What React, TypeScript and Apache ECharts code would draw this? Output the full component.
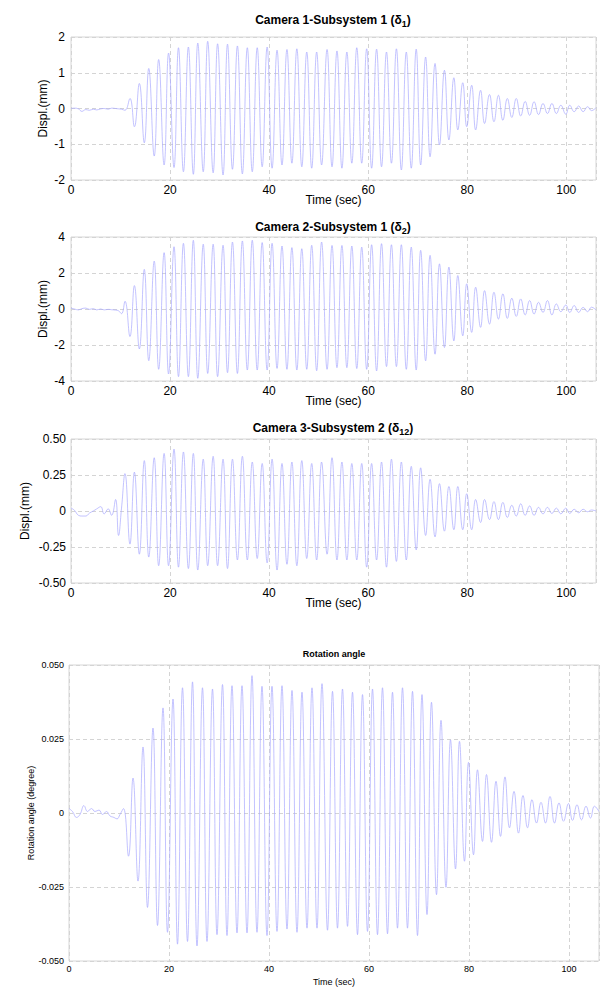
import React, { useEffect, useRef } from "react";
import * as echarts from "echarts";

const X_MAX = 106;
const xTicks = [0, 20, 40, 60, 80, 100];

// times (s) of the quiet part before the shaking starts
const preTimes = [0, 0.7, 1.5, 2.2, 3, 3.7, 4.5, 5.2, 6, 6.7, 7.5, 8.2, 9, 9.6, 10.2, 10.9];
// times (s) of the alternating extrema
const timesA = [11.9, 13.8, 15.7, 17.7, 19.7, 21.7, 23.7, 25.6, 27.6, 29.6, 31.6, 33.6, 35.6, 37.6, 39.6, 41.6, 43.6, 45.6, 47.6, 49.6, 51.7, 53.7, 55.7, 57.7, 59.7, 61.7, 63.7, 65.7, 67.7, 69.7, 71.6, 73.5, 75.4, 77.3, 79.1, 80.9, 82.7, 84.5, 86.3, 88.1, 89.9, 91.7, 93.5, 95.3, 97.1, 98.9, 100.7, 102.5, 104.3];
const timesB = [12.8, 14.8, 16.8, 18.8, 20.8, 22.7, 24.7, 26.7, 28.7, 30.7, 32.6, 34.6, 36.6, 38.6, 40.6, 42.6, 44.6, 46.6, 48.6, 50.6, 52.7, 54.7, 56.7, 58.7, 60.7, 62.7, 64.7, 66.7, 68.7, 70.6, 72.5, 74.4, 76.3, 78.1, 79.9, 81.7, 83.5, 85.4, 87.2, 89.0, 90.8, 92.6, 94.4, 96.2, 98.0, 99.9, 101.6, 103.4, 105.1];

// Camera 1 - Subsystem 1 (mm): maxima at timesA, minima at timesB
const pre1 = [0, 0.01, -0.01, -0.08, -0.03, -0.05, -0.02, -0.04, -0.01, 0.0, -0.02, 0.01, 0.0, -0.01, -0.02, -0.05];
const highs1 = [0.28, 0.7, 1.12, 1.37, 1.55, 1.7, 1.72, 1.83, 1.88, 1.81, 1.8, 1.75, 1.7, 1.7, 1.72, 1.63, 1.65, 1.67, 1.58, 1.58, 1.65, 1.61, 1.58, 1.7, 1.67, 1.66, 1.58, 1.67, 1.58, 1.66, 1.44, 1.26, 1.07, 0.86, 0.72, 0.65, 0.51, 0.39, 0.37, 0.28, 0.28, 0.2, 0.19, 0.14, 0.14, 0.09, 0.09, 0.07, 0.05];
const lows1 = [-0.51, -0.96, -1.33, -1.58, -1.65, -1.77, -1.84, -1.77, -1.8, -1.86, -1.7, -1.83, -1.77, -1.63, -1.67, -1.58, -1.53, -1.63, -1.67, -1.58, -1.63, -1.67, -1.53, -1.53, -1.67, -1.63, -1.53, -1.72, -1.67, -1.58, -1.35, -1.02, -0.88, -0.6, -0.51, -0.6, -0.42, -0.37, -0.33, -0.25, -0.21, -0.19, -0.17, -0.14, -0.14, -0.16, -0.09, -0.09, -0.06];
const end1 = 0.02;

// Camera 2 - Subsystem 1 (mm): maxima at timesB, minima at timesA
const pre2 = [0.05, 0.0, -0.05, 0.02, 0.05, -0.02, 0.02, -0.05, 0.0, -0.05, -0.02, -0.04, -0.06, -0.1, -0.26, 0.43];
const highs2 = [1.3, 2.2, 2.66, 3.13, 3.46, 3.65, 3.82, 3.6, 3.6, 3.54, 3.72, 3.78, 3.82, 3.69, 3.65, 3.5, 3.41, 3.35, 3.54, 3.72, 3.53, 3.53, 3.5, 3.44, 3.57, 3.63, 3.57, 3.57, 3.44, 3.26, 2.98, 2.51, 2.33, 1.86, 1.4, 1.21, 1.02, 0.93, 0.84, 0.6, 0.56, 0.47, 0.37, 0.47, 0.28, 0.22, 0.19, 0.09, 0.1];
const lows2 = [-1.53, -2.22, -2.87, -3.35, -3.61, -3.76, -3.76, -3.85, -3.58, -3.76, -3.54, -3.58, -3.39, -3.39, -3.39, -3.3, -3.35, -3.39, -3.35, -3.43, -3.35, -3.26, -3.26, -3.31, -3.35, -3.44, -3.2, -3.2, -3.35, -3.39, -2.88, -2.51, -2.14, -1.77, -1.49, -1.3, -1.02, -0.84, -0.56, -0.52, -0.41, -0.33, -0.28, -0.19, -0.33, -0.15, -0.19, -0.19, -0.15];
const end2 = -0.05;

// Camera 3 - Subsystem 2 (mm)
const pre3 = [0.02, 0.005, -0.03, -0.035, -0.035, -0.015, 0.0, 0.015, 0.03, -0.02, 0.015, -0.03, 0.08, -0.17, 0.02, 0.26];
const highs3 = [0.27, 0.35, 0.37, 0.4, 0.43, 0.41, 0.4, 0.36, 0.38, 0.36, 0.36, 0.38, 0.34, 0.33, 0.36, 0.33, 0.34, 0.35, 0.33, 0.34, 0.37, 0.34, 0.33, 0.33, 0.33, 0.34, 0.36, 0.34, 0.31, 0.3, 0.22, 0.19, 0.17, 0.17, 0.12, 0.08, 0.08, 0.065, 0.06, 0.04, 0.05, 0.035, 0.025, 0.025, 0.02, 0.02, 0.012, 0.012, 0.007];
const lows3 = [-0.23, -0.3, -0.32, -0.38, -0.38, -0.39, -0.4, -0.41, -0.38, -0.38, -0.4, -0.34, -0.34, -0.33, -0.36, -0.41, -0.37, -0.38, -0.33, -0.34, -0.3, -0.34, -0.34, -0.34, -0.39, -0.34, -0.39, -0.35, -0.34, -0.27, -0.17, -0.18, -0.14, -0.13, -0.13, -0.13, -0.08, -0.06, -0.06, -0.045, -0.035, -0.03, -0.03, -0.02, -0.017, -0.02, -0.017, -0.012, -0.005];
const end3 = 0.0;

// Rotation angle (degree)
const pre4 = [0.0015, 0.0005, -0.0015, -0.0005, 0.0025, 0.0005, 0.0015, 0.0005, 0.001, -0.0005, 0.0005, -0.001, -0.0015, -0.002, -0.0005, 0.0015];
const highs4 = [0.0118, 0.0223, 0.0287, 0.0355, 0.0385, 0.0423, 0.0443, 0.0423, 0.0419, 0.0434, 0.043, 0.043, 0.0464, 0.0428, 0.0428, 0.043, 0.0414, 0.0408, 0.0423, 0.0437, 0.0411, 0.0419, 0.0408, 0.04, 0.0419, 0.0423, 0.0408, 0.0423, 0.0411, 0.04, 0.0374, 0.0313, 0.0247, 0.0242, 0.0171, 0.0146, 0.013, 0.0107, 0.0122, 0.0073, 0.0059, 0.0045, 0.0036, 0.0056, 0.0034, 0.0032, 0.0028, 0.0023, 0.0023];
const lows4 = [-0.0146, -0.023, -0.0319, -0.038, -0.0403, -0.0443, -0.0434, -0.0449, -0.0434, -0.0411, -0.0414, -0.0405, -0.0405, -0.0403, -0.0414, -0.04, -0.0392, -0.0403, -0.0389, -0.0389, -0.0396, -0.0389, -0.0383, -0.0411, -0.04, -0.0411, -0.0408, -0.0389, -0.0389, -0.0414, -0.0343, -0.0276, -0.0251, -0.0189, -0.0163, -0.0141, -0.0096, -0.0099, -0.0079, -0.005, -0.0068, -0.005, -0.0034, -0.0034, -0.0034, -0.0028, -0.0025, -0.0023, -0.0017];
const end4 = 0.0005;

const yLabels1 = ["-2", "-1", "0", "1", "2"];
const yLabels2 = ["-4", "-2", "0", "2", "4"];
const yLabels3 = ["-0.50", "-0.25", "0", "0.25", "0.50"];
const yLabels4 = ["-0.050", "-0.025", "0", "0.025", "0.050"];

function build(pre: number[], upper: number[], upperT: number[], lower: number[], lowerT: number[], endVal: number) {
  const pts: number[][] = [];
  preTimes.forEach((t, i) => pts.push([t, pre[i]]));
  upperT.forEach((t, i) => pts.push([t, upper[i]]));
  lowerT.forEach((t, i) => pts.push([t, lower[i]]));
  pts.push([X_MAX, endVal]);
  pts.sort((a, b) => a[0] - b[0]);
  return pts;
}

const FONT = "'Liberation Sans', Arial, sans-serif";
const LINE = "#a9a9ff";
const GRIDC = "#d4d4d4";
const BOX = "#d6d6d6";

export default function App() {
  const ref = useRef<HTMLDivElement>(null);
  useEffect(() => {
    if (!ref.current) return;
    const chart = echarts.init(ref.current, undefined, { renderer: "svg" });

    const panels = [
      { top: 37, height: 143, left: 71, right: 13, min: -2, max: 2, step: 1, labels: yLabels1, fs: 12, data: build(pre1, highs1, timesA, lows1, timesB, end1), title: "Camera 1-Subsystem 1 (δ{s|1})", titleTop: 11, yName: "Displ.(mm)", yGap: 22, xGap: 14, xMargin: 4, yMargin: 6 },
      { top: 237, height: 144, left: 71, right: 13, min: -4, max: 4, step: 2, labels: yLabels2, fs: 12, data: build(pre2, highs2, timesB, lows2, timesA, end2), title: "Camera 2-Subsystem 1 (δ{s|2})", titleTop: 218, yName: "Displ.(mm)", yGap: 22, xGap: 14, xMargin: 4, yMargin: 6 },
      { top: 439, height: 144, left: 71, right: 13, min: -0.5, max: 0.5, step: 0.25, labels: yLabels3, fs: 12, data: build(pre3, highs3, timesB, lows3, timesA, end3), title: "Camera 3-Subsystem 2 (δ{s|12})", titleTop: 419, yName: "Displ.(mm)", yGap: 40, xGap: 14, xMargin: 4, yMargin: 5 },
      { top: 665, height: 296, left: 69, right: 10, min: -0.05, max: 0.05, step: 0.025, labels: yLabels4, fs: 9, data: build(pre4, highs4, timesB, lows4, timesA, end4), title: "Rotation angle", titleTop: 649, yName: "Rotation angle (degree)", yGap: 34, xGap: 16, xMargin: 3, yMargin: 5 },
    ];

    const option: any = {
      animation: false,
      backgroundColor: "#ffffff",
      title: panels.map((p, i) => ({
        text: p.title,
        left: i === 3 ? 334 : 333,
        top: p.titleTop,
        textAlign: "center",
        padding: 0,
        textStyle: {
          fontFamily: FONT,
          fontWeight: "bold",
          fontSize: i === 3 ? 9 : 12,
          color: "#000",
          rich: {
            s: { fontFamily: FONT, fontWeight: "bold", fontSize: 9, color: "#000", padding: [8, 0, 0, 0] },
          },
        },
      })),
      grid: panels.map((p) => ({
        left: p.left,
        right: p.right,
        top: p.top,
        height: p.height,
        show: true,
        borderColor: BOX,
        borderWidth: 1,
        backgroundColor: "#fff",
      })),
      xAxis: panels.map((p, i) => ({
        type: "value",
        gridIndex: i,
        min: 0,
        max: X_MAX,
        interval: 20,
        name: "Time (sec)",
        nameLocation: "middle",
        nameGap: p.xGap,
        nameMoveOverlap: false,
        nameTextStyle: { fontFamily: FONT, fontSize: p.fs, color: "#000" },
        axisLine: { show: false },
        axisTick: { show: false },
        axisLabel: {
          fontFamily: FONT,
          fontSize: p.fs,
          color: "#000",
          margin: p.xMargin,
          showMaxLabel: false,
          formatter: (v: number) => (xTicks.includes(v) ? String(v) : ""),
        },
        splitLine: { show: true, lineStyle: { color: GRIDC, type: [4, 3], width: 1 } },
      })),
      yAxis: panels.map((p, i) => ({
        type: "value",
        gridIndex: i,
        min: p.min,
        max: p.max,
        interval: p.step,
        name: p.yName,
        nameLocation: "middle",
        nameGap: p.yGap,
        nameRotate: 90,
        nameMoveOverlap: false,
        nameTextStyle: { fontFamily: FONT, fontSize: p.fs, color: "#000" },
        axisLine: { show: false },
        axisTick: { show: false },
        axisLabel: {
          fontFamily: FONT,
          fontSize: p.fs,
          color: "#000",
          margin: p.yMargin,
          formatter: (v: number) => {
            const k = Math.round((v - p.min) / p.step);
            return p.labels[k] ?? "";
          },
        },
        splitLine: { show: true, lineStyle: { color: GRIDC, type: [4, 3], width: 1 } },
      })),
      series: panels.map((p, i) => ({
        type: "line",
        xAxisIndex: i,
        yAxisIndex: i,
        data: p.data,
        showSymbol: false,
        smooth: 0.45,
        lineStyle: { color: LINE, width: 0.7 },
        clip: true,
      })),
    };
    chart.setOption(option);
    return () => chart.dispose();
  }, []);
  return <div ref={ref} style={{ position: "absolute", left: 0, top: 0, width: 609, height: 1000 }} />;
}
